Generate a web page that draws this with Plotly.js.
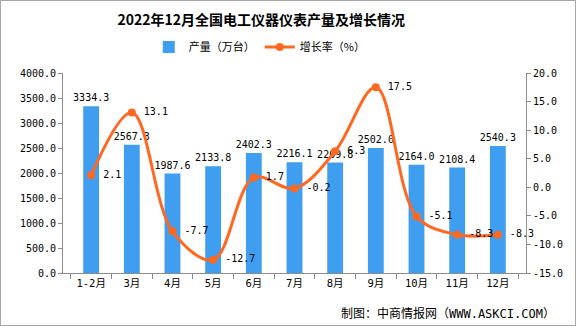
<!DOCTYPE html>
<html>
<head>
<meta charset="utf-8">
<script src="https://cdn.plot.ly/plotly-3.0.1.min.js"></script>
<style>
html,body{margin:0;padding:0;background:#fff;}
#wrap{width:576px;height:326px;box-sizing:border-box;border:1px solid #a6a6a6;overflow:hidden;}
#chart{width:574px;height:324px;}
</style>
</head>
<body>
<div id="wrap"><div id="chart"></div></div>
<script>
const categories = ['1-2月','3月','4月','5月','6月','7月','8月','9月','10月','11月','12月'];
const production = [3334.3, 2567.3, 1987.6, 2133.8, 2402.3, 2216.1, 2209.8, 2502.0, 2164.0, 2108.4, 2540.3];
const growth = [2.1, 13.1, -7.7, -12.7, 1.7, -0.2, 6.3, 17.5, -5.1, -8.3, -8.3];
const leftTicks = [0, 500, 1000, 1500, 2000, 2500, 3000, 3500, 4000];
const rightTicks = [-15, -10, -5, 0, 5, 10, 15, 20];

const mono = '"DejaVu Sans Mono", "Noto Sans CJK SC", monospace';
const cjk = '"Noto Sans CJK SC", sans-serif';
const fmt = v => (v < 0 ? '-' : '') + Math.abs(v).toFixed(1);

const barTrace = {
  type: 'bar', name: '产量（万台）', x: categories, y: production,
  marker: {color: '#409EF0'}, width: 0.39,
  text: production.map(fmt), textposition: 'outside', cliponaxis: false, constraintext: 'none',
  textfont: {family: mono, size: 10, color: '#000'},
  hoverinfo: 'x+y'
};
const lineTrace = {
  type: 'scatter', mode: 'lines+markers+text', name: '增长率（%）',
  x: categories, y: growth, yaxis: 'y2',
  line: {color: '#FF6820', width: 3, shape: 'spline', smoothing: 1},
  marker: {color: '#FF6820', size: 8},
  text: growth.map(v => '\u2009' + fmt(v)), textposition: 'middle right', cliponaxis: false,
  textfont: {family: mono, size: 10, color: '#000'}
};

const axisColor = '#8c8c8c';
const layout = {
  width: 574, height: 324,
  margin: {l: 62, r: 49, t: 72, b: 52},
  paper_bgcolor: '#fff', plot_bgcolor: '#fff',
  title: {text: '<b>2022年12月全国电工仪器仪表产量及增长情况</b>',
    font: {family: cjk, size: 14, color: '#000'},
    xref: 'paper', x: 0.428, xanchor: 'center', yref: 'container', y: 0.94, yanchor: 'middle'},
  showlegend: true,
  legend: {orientation: 'h', xref: 'paper', x: 0.425, xanchor: 'center', yref: 'paper', y: 1.13, yanchor: 'middle',
    font: {family: cjk, size: 11, color: '#000'}, itemwidth: 30, traceorder: 'normal'},
  xaxis: {type: 'category', showgrid: false, showline: true, linecolor: axisColor, linewidth: 1,
    ticks: 'outside', tickson: 'boundaries', ticklen: 5, tickcolor: axisColor,
    tickfont: {family: mono, size: 10.5, color: '#000'}, zeroline: false},
  yaxis: {range: [0, 4000], tickvals: leftTicks, ticktext: leftTicks.map(fmt),
    showgrid: false, showline: true, linecolor: axisColor, ticks: 'outside', ticklen: 4, tickcolor: axisColor,
    tickfont: {family: mono, size: 10, color: '#000'}, zeroline: false},
  yaxis2: {range: [-15, 20], tickvals: rightTicks, ticktext: rightTicks.map(fmt),
    overlaying: 'y', side: 'right', showgrid: false, showline: true, linecolor: axisColor,
    ticks: 'outside', ticklen: 4, tickcolor: axisColor,
    tickfont: {family: mono, size: 10, color: '#000'}, zeroline: false},
  annotations: [{text: '制图：中商情报网（WWW.ASKCI.COM）', xref: 'paper', yref: 'paper',
    x: 1.067, xanchor: 'right', y: -0.2, yanchor: 'middle', showarrow: false,
    font: {family: mono, size: 12, color: '#000'}}]
};

Plotly.newPlot('chart', [barTrace, lineTrace], layout, {displayModeBar: false, staticPlot: true});
</script>
</body>
</html>
